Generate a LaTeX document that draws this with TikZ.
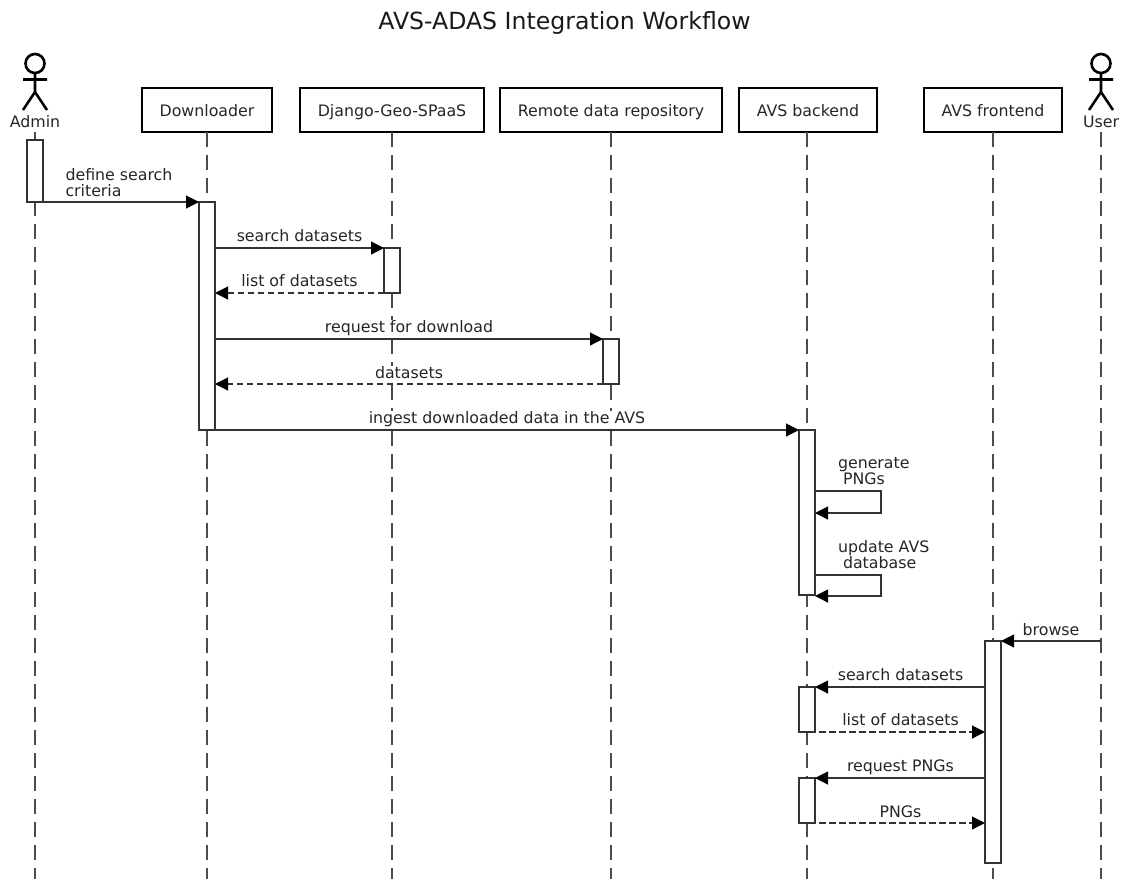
\documentclass[tikz,border=0pt]{standalone}
\usepackage{fontspec}
\setmainfont{DejaVu Sans}
\usetikzlibrary{arrows.meta}
\tikzset{
  x=1pt,y=-1pt,
  every node/.style={font=\fontsize{15.8pt}{16.5pt}\selectfont,text=black!85,inner sep=0pt,outer sep=0pt},
  headbox/.style={draw=black,line width=2.8pt,minimum height=44pt,fill=white,text height=13pt,text depth=0pt},
  life/.style={draw=black!70,line width=1.6pt,dash pattern=on 15pt off 8pt},
  actorline/.style={draw=black,line width=2.6pt},
  bar/.style={draw=black!80,line width=1.15pt,fill=white,minimum width=16pt,anchor=north},
  msg/.style={draw=black!80,line width=1.15pt,-{Triangle[length=13pt,width=13pt,color=black]}},
  ret/.style={msg,dash pattern=on 6.5pt off 3.5pt},
  lab/.style={anchor=base,align=left,fill=white,inner xsep=1pt,inner ysep=0.5pt},
}
\begin{document}
\begin{tikzpicture}
\useasboundingbox (0,0) rectangle (1121,879);
\node[font=\fontsize{23.6pt}{26pt}\selectfont,text=black!90] (title) at (564.5,23) {AVS-ADAS Integration Workflow};

% lifeline ends
\coordinate (ea) at (35,879);
\coordinate (ed) at (207,879);
\coordinate (eg) at (392,879);
\coordinate (er) at (611,879);
\coordinate (eb) at (807,879);
\coordinate (ef) at (993,879);
\coordinate (eu) at (1101,879);
\coordinate (sa) at (35,132);
\coordinate (su) at (1101,132);

% headers
\node[headbox,minimum width=130pt] (hd) at (207,110) {Downloader};
\node[headbox,minimum width=184pt] (hg) at (392,110) {Django-Geo-SPaaS};
\node[headbox,minimum width=222pt] (hr) at (611,110) {Remote data repository};
\node[headbox,minimum width=138pt] (hb) at (808,110) {AVS backend};
\node[headbox,minimum width=138pt] (hf) at (993,110) {AVS frontend};

% actors
\node (admin) at (35,121.5) {Admin};
\node (user) at (1101,121.5) {User};
\foreach \xx in {35,1101}{
  \draw[actorline] (\xx,63.5) circle (9.5);
  \draw[actorline] (\xx,73) -- (\xx,92) (\xx-12,79.5) -- (\xx+12,79.5)
    (\xx-12,110) -- (\xx,92) -- (\xx+12,110);
}

\draw[life] (sa) -- (ea);
\draw[life] (hd.south) -- (ed);
\draw[life] (hg.south) -- (eg);
\draw[life] (hr.south) -- (er);
\draw[life] (hb.south -| eb) -- (eb);
\draw[life] (hf.south) -- (ef);
\draw[life] (su) -- (eu);

% activations
\node[bar,minimum height=62pt] (a0) at (35,140) {};
\node[bar,minimum height=228pt] (d0) at (207,202) {};
\node[bar,minimum height=45pt] (g0) at (392,248) {};
\node[bar,minimum height=45pt] (r0) at (611,339) {};
\node[bar,minimum height=165pt] (b0) at (807,430) {};
\node[bar,minimum height=222pt] (f0) at (993,641) {};
\node[bar,minimum height=45pt] (b1) at (807,687) {};
\node[bar,minimum height=45pt] (b2) at (807,778) {};

% labels
\node[lab,anchor=base west] (l1) at (64.5,196) {define search\\[-0.5pt]criteria};
\node[lab] (l2) at (299.5,241) {search datasets};
\node[lab] (l3) at (299.5,286) {list of datasets};
\node[lab] (l4) at (409,332) {request for download};
\node[lab] (l5) at (409,378) {datasets};
\node[lab] (l6) at (507,423) {ingest downloaded data in the AVS};
\node[lab,anchor=base west] (l7) at (837,484.5) {generate\\[-0.5pt]\hspace*{5pt}PNGs};
\node[lab,anchor=base west] (l8) at (837,568) {update AVS\\[-0.5pt]\hspace*{5pt}database};
\node[lab] (l9) at (1051,635) {browse};
\node[lab] (l10) at (900.5,680) {search datasets};
\node[lab] (l11) at (900.5,725) {list of datasets};
\node[lab] (l12) at (900.5,771) {request PNGs};
\node[lab] (l13) at (900.5,817) {PNGs};

% messages
\draw[msg] (a0.south west) -- (d0.north west);
\draw[msg] (d0.east |- g0.north) -- (g0.north west);
\draw[ret] (g0.south west) -- (d0.east |- g0.south);
\draw[msg] (d0.east |- r0.north) -- (r0.north west);
\draw[ret] (r0.south west) -- (d0.east |- r0.south);
\draw[msg] (d0.south west) -- (b0.north west);

\coordinate (s1a) at (815,491);
\coordinate (s1b) at (881,491);
\coordinate (s1c) at (881,513);
\coordinate (s1d) at (815,513);
\draw[msg] (s1a) -- (s1b) -- (s1c) -- (s1d);
\coordinate (s2a) at (815,575);
\coordinate (s2b) at (881,575);
\coordinate (s2c) at (881,596);
\coordinate (s2d) at (815,596);
\draw[msg] (s2a) -- (s2b) -- (s2c) -- (s2d);

\draw[msg] (su |- f0.north) -- (f0.north east);
\draw[msg] (f0.west |- b1.north) -- (b1.north east);
\draw[ret] (b1.south west) -- (f0.west |- b1.south);
\draw[msg] (f0.west |- b2.north) -- (b2.north east);
\draw[ret] (b2.south west) -- (f0.west |- b2.south);
\end{tikzpicture}
\end{document}
